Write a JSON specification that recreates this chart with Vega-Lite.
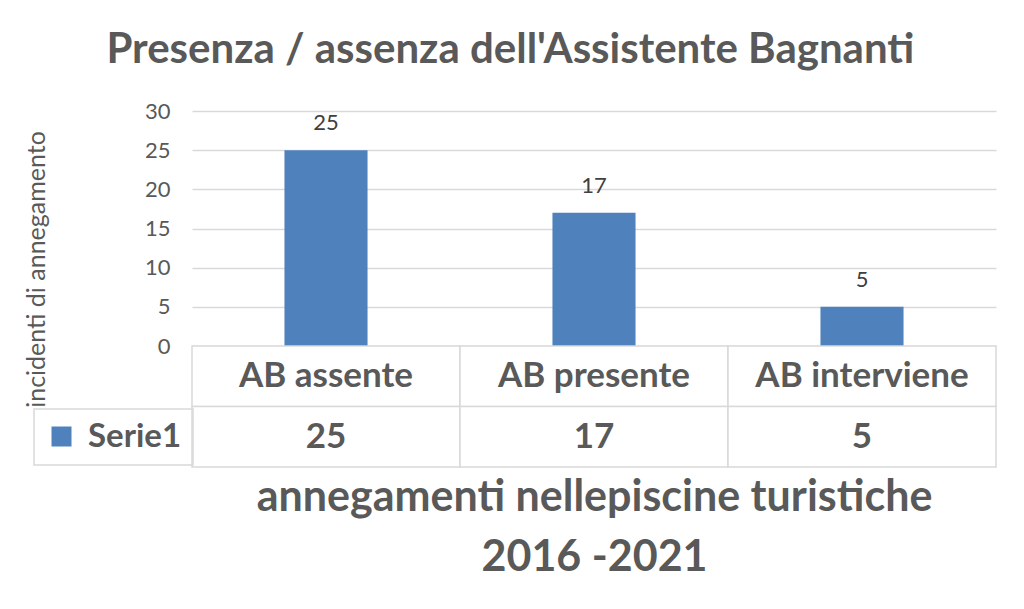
{
  "$schema": "https://vega.github.io/schema/vega-lite/v6.json",
  "background": "white",
  "padding": {"left": 23, "top": 29, "right": 20, "bottom": 5},
  "bounds": "flush",
  "title": {
    "text": "Presenza / assenza dell'Assistente Bagnanti",
    "font": "Lato",
    "fontSize": 42,
    "fontWeight": "bold",
    "color": "#595959",
    "anchor": "middle",
    "offset": 28
  },
  "datasets": {
    "incidenti": [
      {"categoria": "AB assente", "valore": 25, "serie": "Serie1"},
      {"categoria": "AB presente", "valore": 17, "serie": "Serie1"},
      {"categoria": "AB interviene", "valore": 5, "serie": "Serie1"}
    ]
  },
  "spacing": 0,
  "vconcat": [
    {
      "width": 804,
      "height": 235,
      "data": {"name": "incidenti"},
      "encoding": {
        "x": {
          "field": "categoria",
          "type": "nominal",
          "sort": null,
          "scale": {"paddingInner": 0, "paddingOuter": 0},
          "axis": null
        },
        "y": {
          "field": "valore",
          "type": "quantitative",
          "scale": {"domain": [0, 30]},
          "axis": {
            "values": [0, 5, 10, 15, 20, 25, 30],
            "title": "incidenti di annegamento",
            "titleFont": "Lato",
            "titleFontSize": 25,
            "titleFontWeight": "normal",
            "titleColor": "#595959",
            "titleX": -143,
            "titleY": 158,
            "labelFont": "Lato",
            "labelFontSize": 22,
            "labelColor": "#595959",
            "labelPadding": 22,
            "domain": false,
            "ticks": false,
            "gridColor": "#d9d9d9",
            "gridWidth": 1.5
          }
        }
      },
      "layer": [
        {
          "mark": {"type": "bar", "width": {"band": 0.31}},
          "encoding": {
            "color": {
              "field": "serie",
              "type": "nominal",
              "scale": {"range": ["#4F81BD"]},
              "legend": {
                "orient": "none",
                "legendX": -158,
                "legendY": 298,
                "title": null,
                "symbolType": "square",
                "symbolSize": 400,
                "symbolStrokeWidth": 0,
                "labelFont": "Lato",
                "labelFontSize": 33,
                "labelFontWeight": "bold",
                "labelColor": "#595959",
                "labelOffset": 10,
                "padding": 11,
                "strokeColor": "#d9d9d9"
              }
            }
          }
        },
        {
          "mark": {
            "type": "text",
            "baseline": "bottom",
            "dy": -15,
            "font": "Lato",
            "fontSize": 22,
            "color": "#404040"
          },
          "encoding": {"text": {"field": "valore", "type": "quantitative"}}
        }
      ]
    },
    {
      "width": 804,
      "height": 121,
      "data": {"name": "incidenti"},
      "encoding": {
        "x": {
          "field": "categoria",
          "type": "nominal",
          "sort": null,
          "scale": {"paddingInner": 0, "paddingOuter": 0},
          "axis": {
            "labels": false,
            "ticks": false,
            "domain": false,
            "title": ["annegamenti nellepiscine turistiche", "2016 -2021"],
            "titleFont": "Lato",
            "titleFontSize": 43,
            "titleFontWeight": "bold",
            "titleColor": "#595959",
            "titleLineHeight": 60,
            "titlePadding": 9
          }
        }
      },
      "layer": [
        {
          "mark": {"type": "rect", "fill": "white", "stroke": "#d9d9d9", "strokeWidth": 1.5},
          "encoding": {
            "y": {
              "datum": "cat",
              "type": "nominal",
              "scale": {"domain": ["cat", "val"], "paddingInner": 0, "paddingOuter": 0},
              "axis": null
            }
          }
        },
        {
          "mark": {"type": "rect", "fill": "white", "stroke": "#d9d9d9", "strokeWidth": 1.5},
          "encoding": {"y": {"datum": "val", "type": "nominal"}}
        },
        {
          "mark": {
            "type": "text",
            "font": "Lato",
            "fontSize": 35,
            "fontWeight": "bold",
            "color": "#595959"
          },
          "encoding": {
            "y": {"datum": "cat", "type": "nominal"},
            "text": {"field": "categoria", "type": "nominal"}
          }
        },
        {
          "mark": {
            "type": "text",
            "font": "Lato",
            "fontSize": 35,
            "fontWeight": "bold",
            "color": "#595959"
          },
          "encoding": {
            "y": {"datum": "val", "type": "nominal"},
            "text": {"field": "valore", "type": "quantitative"}
          }
        }
      ]
    }
  ],
  "config": {
    "view": {"stroke": null},
    "legend": {"strokeWidth": 1.5}
  }
}
